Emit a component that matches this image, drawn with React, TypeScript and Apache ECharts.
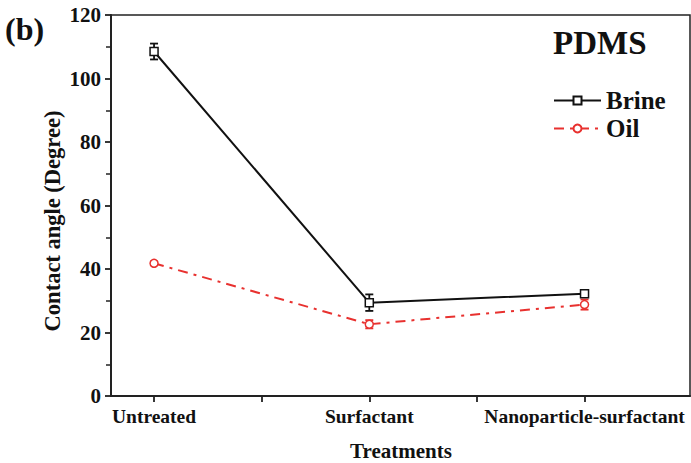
import React, { useEffect, useRef } from "react";
import * as echarts from "echarts";

const categories = ["Untreated", "Surfactant", "Nanoparticle-surfactant"];
const brineValues = [108.5, 29.4, 32.2];
const brineErrors = [2.5, 2.6, 0.6];
const oilValues = [41.8, 22.6, 28.8];
const oilErrors = [0.6, 1.3, 1.6];
const yTicks = [0, 20, 40, 60, 80, 100, 120];

const FONT = "'Liberation Serif', 'Times New Roman', serif";
const RED = "#e8312f";

export default function App() {
  const ref = useRef<HTMLDivElement>(null);
  useEffect(() => {
    if (!ref.current) return;
    const chart = echarts.init(ref.current, null, { renderer: "svg" });
    const xs = categories.map((_, i) => i + 1);
    const errData = (vals: number[], errs: number[]) =>
      vals.map((v, i) => [xs[i], v - errs[i], v + errs[i]]);
    const errSeries = (name: string, vals: number[], errs: number[], color: string) => ({
      type: "custom",
      name: name + "-err",
      data: errData(vals, errs),
      z: 1,
      silent: true,
      renderItem: (params: any, api: any) => {
        const x = api.value(0);
        const lo = api.coord([x, api.value(1)]);
        const hi = api.coord([x, api.value(2)]);
        const w = 4;
        const style = { stroke: color, lineWidth: 1.8 };
        return {
          type: "group",
          children: [
            { type: "line", shape: { x1: lo[0], y1: lo[1], x2: hi[0], y2: hi[1] }, style },
            { type: "line", shape: { x1: lo[0] - w, y1: lo[1], x2: lo[0] + w, y2: lo[1] }, style },
            { type: "line", shape: { x1: hi[0] - w, y1: hi[1], x2: hi[0] + w, y2: hi[1] }, style },
          ],
        };
      },
    });
    chart.setOption({
      animation: false,
      grid: {
        left: 111,
        right: 1,
        top: 15,
        bottom: 67,
        show: true,
        borderColor: "#222",
        borderWidth: 1.5,
        backgroundColor: "transparent",
      },
      legend: {
        orient: "vertical",
        left: 548,
        top: 83,
        itemWidth: 47,
        itemHeight: 10,
        itemGap: 3,
        data: ["Brine", "Oil"],
        textStyle: { fontFamily: FONT, fontWeight: "bold", fontSize: 25, color: "#111" },
      },
      xAxis: {
        type: "value",
        min: 0.8,
        max: 3.49,
        splitLine: { show: false },
        axisLine: { lineStyle: { color: "#222", width: 2 } },
        axisTick: {
          show: true,
          customValues: [1, 1.5, 2, 2.5, 3],
          length: 6,
          lineStyle: { color: "#222", width: 1.8 },
        },
        axisLabel: {
          customValues: xs,
          formatter: (v: number) => categories[Math.round(v) - 1] ?? "",
          fontFamily: FONT,
          fontWeight: "bold",
          fontSize: 19.5,
          color: "#111",
          margin: 10,
        },
      },
      yAxis: {
        type: "value",
        min: 0,
        max: 120,
        interval: 20,
        splitLine: { show: false },
        axisLine: { show: true, lineStyle: { color: "#222", width: 2 } },
        axisTick: { show: true, length: 6, lineStyle: { color: "#222", width: 1.8 } },
        minorTick: { show: true, splitNumber: 2, length: 5, lineStyle: { color: "#222", width: 1.5 } },
        axisLabel: {
          formatter: (v: number) => (yTicks.includes(v) ? String(v) : ""),
          fontFamily: FONT,
          fontWeight: "bold",
          fontSize: 21,
          color: "#111",
          margin: 10,
        },
      },
      graphic: [
        {
          type: "text",
          left: 5,
          top: 13,
          style: { text: "(b)", font: `bold 32px ${FONT}`, fill: "#111" },
        },
        {
          type: "text",
          left: 553,
          top: 26,
          style: { text: "PDMS", font: `bold 33px ${FONT}`, fill: "#111" },
        },
        {
          type: "text",
          x: 401,
          y: 451,
          style: {
            text: "Treatments",
            font: `bold 21px ${FONT}`,
            fill: "#111",
            align: "center",
            verticalAlign: "middle",
          },
        },
        {
          type: "text",
          x: 52,
          y: 221,
          rotation: Math.PI / 2,
          style: {
            text: "Contact angle (Degree)",
            font: `bold 22.5px ${FONT}`,
            fill: "#111",
            align: "center",
            verticalAlign: "middle",
          },
        },
      ],
      series: [
        errSeries("Brine", brineValues, brineErrors, "#111"),
        errSeries("Oil", oilValues, oilErrors, RED),
        {
          type: "line",
          name: "Brine",
          data: brineValues.map((v, i) => [xs[i], v]),
          symbol: "rect",
          symbolSize: 8,
          z: 3,
          lineStyle: { color: "#111", width: 2 },
          itemStyle: { color: "#fff", borderColor: "#111", borderWidth: 1.5 },
        },
        {
          type: "line",
          name: "Oil",
          data: oilValues.map((v, i) => [xs[i], v]),
          symbol: "circle",
          symbolSize: 8,
          z: 3,
          lineStyle: { color: RED, width: 2, type: [10, 6, 3, 6] },
          itemStyle: { color: "#fff", borderColor: RED, borderWidth: 1.5 },
        },
      ],
    });
    return () => chart.dispose();
  }, []);
  return <div ref={ref} style={{ width: 691, height: 463, position: "absolute", left: 0, top: 0 }} />;
}
